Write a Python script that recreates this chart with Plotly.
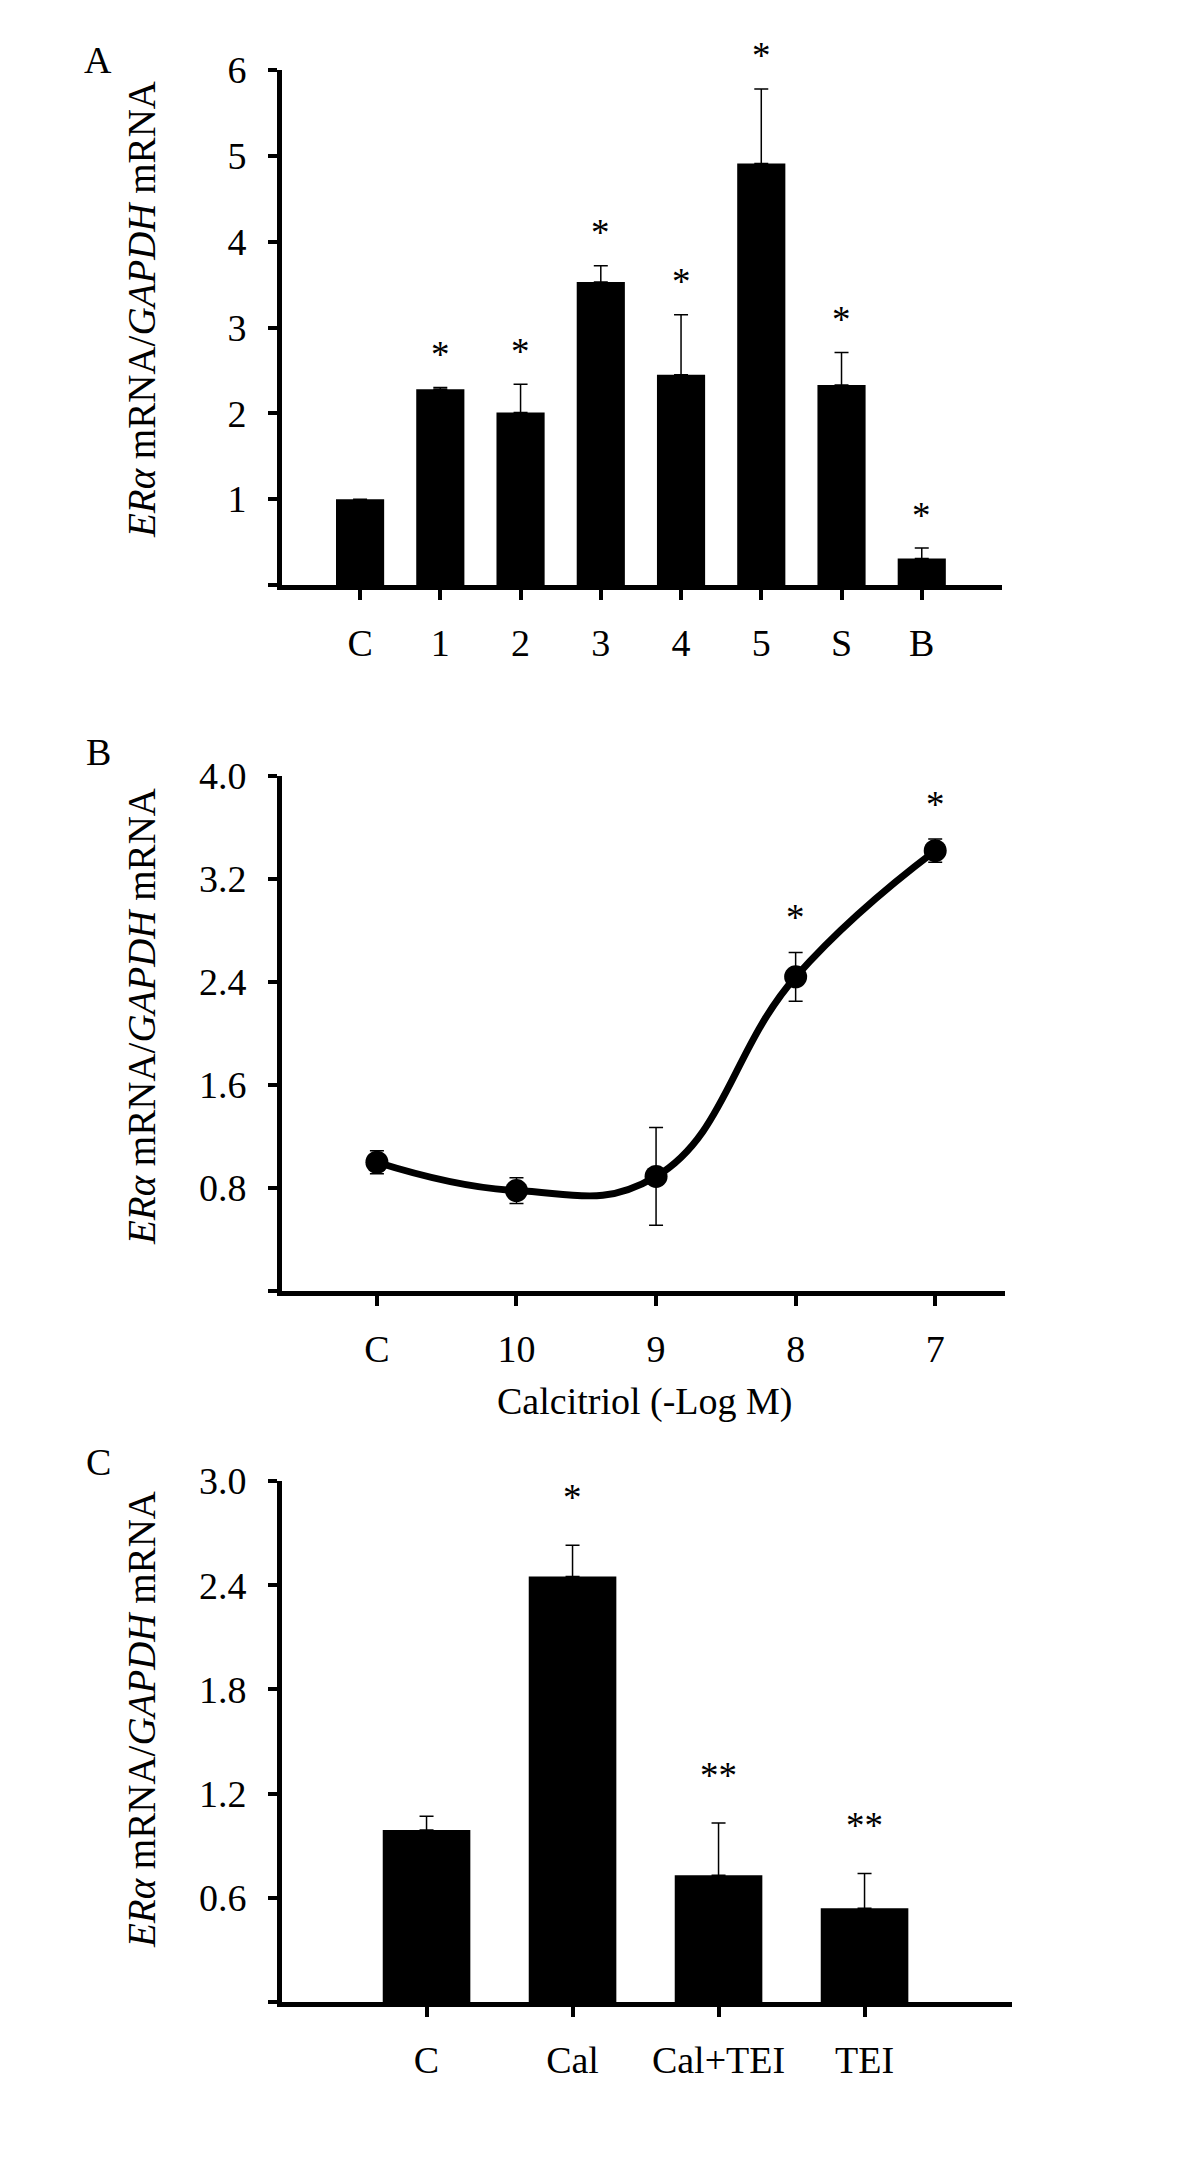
import plotly.graph_objects as go

# ---------------- data ----------------
a_cats = ["C", "1", "2", "3", "4", "5", "S", "B"]
a_vals = [1.0, 2.28, 2.01, 3.53, 2.45, 4.91, 2.33, 0.31]
a_errs = [0.0, 0.02, 0.33, 0.19, 0.70, 0.87, 0.38, 0.12]
a_sig = ["", "*", "*", "*", "*", "*", "*", "*"]

b_cats = ["C", "10", "9", "8", "7"]
b_vals = [1.0, 0.78, 0.89, 2.44, 3.42]
b_errs = [0.09, 0.10, 0.38, 0.19, 0.09]
b_sig = ["", "", "", "*", "*"]

c_cats = ["C", "Cal", "Cal+TEI", "TEI"]
c_vals = [0.99, 2.45, 0.73, 0.54]
c_errs = [0.08, 0.18, 0.30, 0.20]
c_sig = ["", "*", "**", "**"]

a_yticks = [0, 1, 2, 3, 4, 5, 6]
a_yticktext = ["", "1", "2", "3", "4", "5", "6"]
b_yticks = [0, 0.8, 1.6, 2.4, 3.2, 4.0]
b_yticktext = ["", "0.8", "1.6", "2.4", "3.2", "4.0"]
c_yticks = [0, 0.6, 1.2, 1.8, 2.4, 3.0]
c_yticktext = ["", "0.6", "1.2", "1.8", "2.4", "3.0"]

ytitle = "<i>ERα</i> mRNA/<i>GAPDH</i> mRNA"
xtitle_b = "Calcitriol (-Log M)"

# ---------------- style ----------------
W, H = 1200, 2163
FONT = "Liberation Serif, Times New Roman, serif"
FS = 38
BLACK = "black"


def px_x(v):
    return v / W


def px_y(v):
    return 1 - v / H


fig = go.Figure()

ax = list(range(len(a_cats)))
bx = list(range(len(b_cats)))
cx = list(range(len(c_cats)))

fig.add_trace(go.Bar(
    x=ax, y=a_vals, width=0.6, marker=dict(color=BLACK, line=dict(width=0)),
    error_y=dict(type="data", array=a_errs, arrayminus=[0] * len(a_errs),
                 symmetric=False, color=BLACK, thickness=1.5, width=7),
    xaxis="x", yaxis="y", showlegend=False, hoverinfo="skip"))

fig.add_trace(go.Scatter(
    x=bx, y=b_vals, mode="lines+markers",
    line=dict(color=BLACK, width=7, shape="spline", smoothing=1.25),
    marker=dict(color=BLACK, size=23),
    error_y=dict(type="data", array=b_errs, symmetric=True, color=BLACK,
                 thickness=1.5, width=7),
    xaxis="x2", yaxis="y2", showlegend=False, hoverinfo="skip"))

fig.add_trace(go.Bar(
    x=cx, y=c_vals, width=0.6, marker=dict(color=BLACK, line=dict(width=0)),
    error_y=dict(type="data", array=c_errs, arrayminus=[0] * len(c_errs),
                 symmetric=False, color=BLACK, thickness=1.5, width=7),
    xaxis="x3", yaxis="y3", showlegend=False, hoverinfo="skip"))

common_x = dict(showline=True, linewidth=5, linecolor=BLACK, ticks="outside",
                ticklen=10, tickwidth=4, tickcolor=BLACK, showgrid=False,
                zeroline=False, automargin=False,
                tickfont=dict(family=FONT, size=FS, color=BLACK),
                ticklabelstandoff=10)
common_y = dict(showline=True, linewidth=5, linecolor=BLACK, ticks="outside",
                ticklen=9, tickwidth=4, tickcolor=BLACK, showgrid=False,
                zeroline=False, automargin=False,
                tickfont=dict(family=FONT, size=FS, color=BLACK),
                ticklabelstandoff=14)

fig.update_layout(
    template="none",
    width=W, height=H, margin=dict(l=0, r=0, t=0, b=0, pad=0, autoexpand=False),
    paper_bgcolor="white", plot_bgcolor="white",
    font=dict(family=FONT, size=FS, color=BLACK),
    xaxis=dict(common_x, domain=[px_x(282), px_x(1002)], range=[-0.973, 8.0],
               tickvals=ax, ticktext=a_cats, anchor="y"),
    yaxis=dict(common_y, domain=[px_y(585), px_y(70)], range=[0, 6],
               tickvals=a_yticks, ticktext=a_yticktext, anchor="x"),
    xaxis2=dict(common_x, domain=[px_x(282), px_x(1005)], range=[-0.68, 4.5],
                tickvals=bx, ticktext=b_cats, anchor="y2"),
    yaxis2=dict(common_y, domain=[px_y(1291), px_y(776)], range=[0, 4.0],
                tickvals=b_yticks, ticktext=b_yticktext, anchor="x2"),
    xaxis3=dict(common_x, domain=[px_x(282), px_x(1012)], range=[-0.99, 4.01],
                tickvals=cx, ticktext=c_cats, anchor="y3"),
    yaxis3=dict(common_y, domain=[px_y(2002), px_y(1481)], range=[0, 3.0],
                tickvals=c_yticks, ticktext=c_yticktext, anchor="x3"),
)

ann = []
# significance stars
for xs, vals, errs, sig, xr, yr, shift in [
    (ax, a_vals, a_errs, a_sig, "x", "y", 33),
    (bx, b_vals, b_errs, b_sig, "x2", "y2", 35),
    (cx, c_vals, c_errs, c_sig, "x3", "y3", 48),
]:
    for xi, v, e, s in zip(xs, vals, errs, sig):
        if s:
            ann.append(dict(x=xi, y=v + e, xref=xr, yref=yr, text=s,
                            showarrow=False, yanchor="middle", xanchor="center",
                            yshift=shift, font=dict(family=FONT, size=37)))

# y-axis titles
for yc in [310, 1017, 1720]:
    ann.append(dict(x=px_x(141), y=px_y(yc), xref="paper", yref="paper",
                    text=ytitle, textangle=-90, showarrow=False,
                    xanchor="center", yanchor="middle",
                    font=dict(family=FONT, size=39)))

# panel letters
for lab, yc in [("A", 60), ("B", 752), ("C", 1462)]:
    ann.append(dict(x=px_x(98), y=px_y(yc), xref="paper", yref="paper",
                    text=lab, showarrow=False, xanchor="center",
                    yanchor="middle", font=dict(family=FONT, size=FS)))

# x-axis title panel B
ann.append(dict(x=px_x(644), y=px_y(1401), xref="paper", yref="paper",
                text=xtitle_b, showarrow=False, xanchor="center",
                yanchor="middle", font=dict(family=FONT, size=FS)))

fig.update_layout(annotations=ann)

fig.write_html("out.html",
               config={"displayModeBar": False, "staticPlot": True},
               post_script="document.body.style.margin='0px';"
                           "document.body.style.padding='0px';"
                           "document.body.style.overflow='hidden';")
